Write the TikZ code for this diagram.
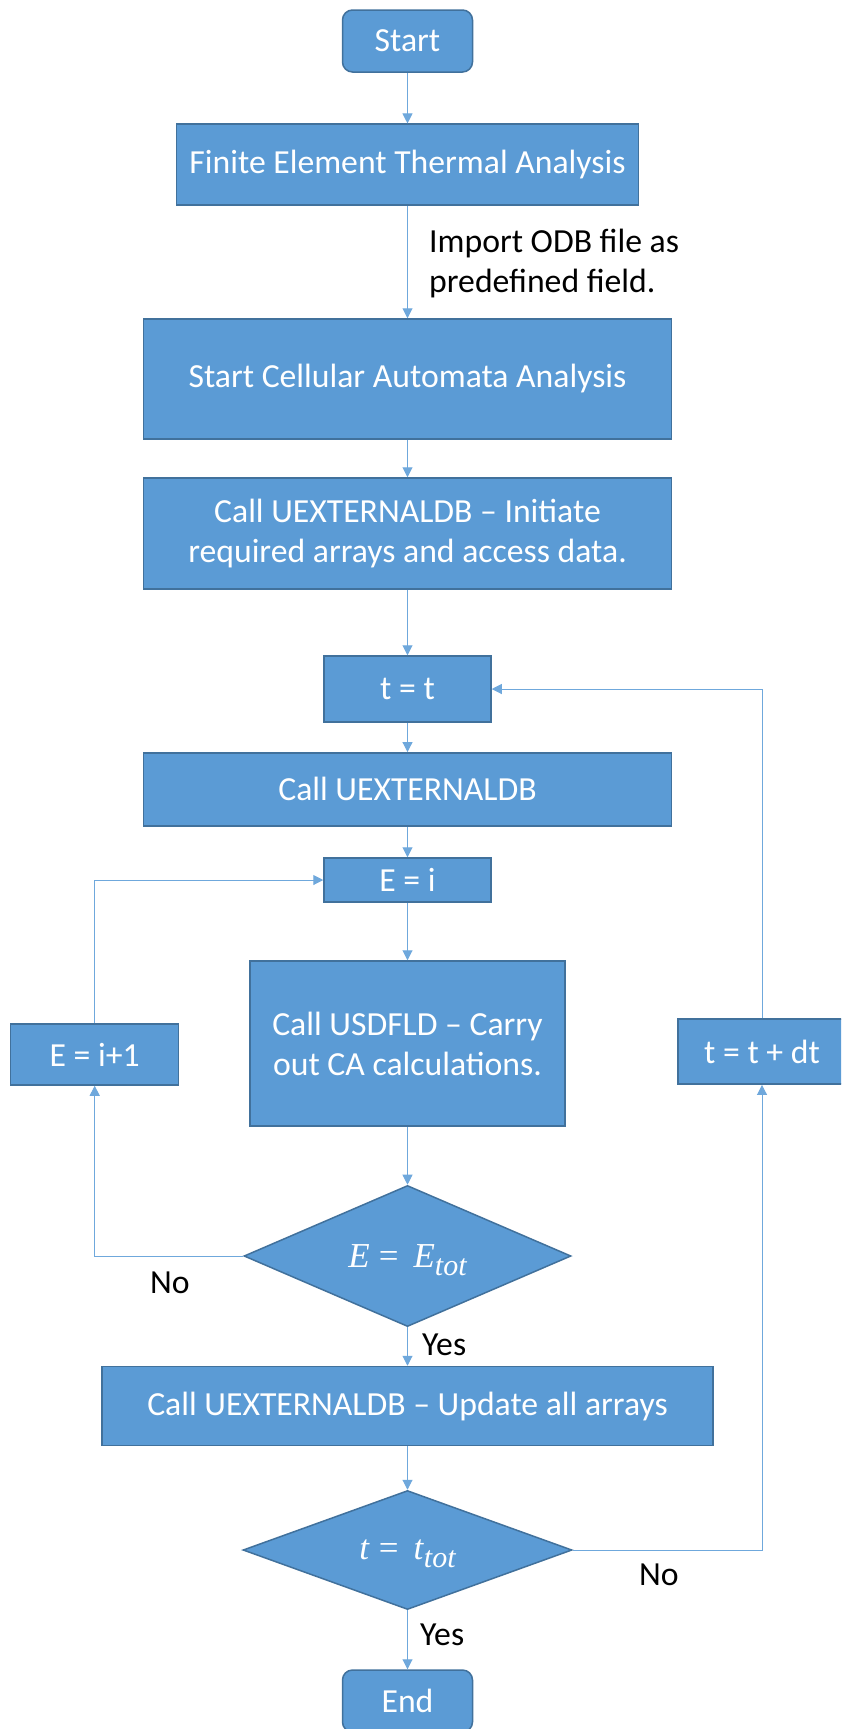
\documentclass[tikz,border=0pt]{standalone}
\usepackage{fontspec}
\setmainfont{Carlito}
\newfontfamily\mathish{Liberation Serif}
\usetikzlibrary{arrows.meta,shapes.geometric}
\definecolor{boxblue}{HTML}{5B9BD5}
\definecolor{boxedge}{HTML}{41719C}
\definecolor{linkblue}{HTML}{6FA8DC}
\newcommand\tot{\raisebox{-8pt}[0pt][0pt]{\fontsize{30}{30}\selectfont\itshape tot}}

\begin{document}
\begin{tikzpicture}[
  x=1pt, y=-1pt,
  >={Triangle[length=10pt,width=10pt]},
  font=\fontsize{33.7}{40}\selectfont,
  block/.style={draw=boxedge, line width=1.5pt, fill=boxblue, text=white, align=center, inner sep=0pt},
  terminal/.style={block, rounded corners=10pt},
  decision/.style={block, diamond, font=\fontsize{35}{40}\mathish},
  link/.style={draw=linkblue, line width=1pt},
  note/.style={inner sep=0pt, text=black, align=left}
  ]
\clip (0,0) rectangle (841,1729);
\fill [white] (0,0) rectangle (841,1729);
%\draw [ultra thin, lightgray] (0,0) grid [step=50] (841,1729);
\node [terminal, minimum width=130pt, minimum height=62pt] (start) at (407.5,41) {Start};
\node [block, minimum width=462pt, minimum height=81pt] (fe) at (407.5,164.7) {Finite Element Thermal Analysis};
\node [block, minimum width=528pt, minimum height=120pt] (ca) at (407.5,379) {Start Cellular Automata Analysis};
\node [block, minimum width=528pt, minimum height=111pt] (init) at (407.5,533.5) {Call UEXTERNALDB – Initiate\\required arrays and access data.};
\node [block, minimum width=167pt, minimum height=66pt] (tt) at (407.5,689) {t = t};
\node [block, minimum width=528pt, minimum height=73pt] (ext) at (407.5,789.3) {Call UEXTERNALDB};
\node [block, minimum width=167pt, minimum height=44pt] (ei) at (407.5,880) {E = i};
\node [block, minimum width=315pt, minimum height=165pt] (usd) at (407.5,1043.5) {Call USDFLD – Carry\\out CA calculations.};
\node [block, minimum width=168pt, minimum height=61pt] (inc) at (94.7,1054.5) {E = i+1};
\node [block, minimum width=168pt, minimum height=65pt] (adv) at (762,1051.7) {t = t + dt};
\node [decision, minimum width=327pt, minimum height=120pt] (d1) at (407.5,1256) {\textit{E}\hspace{9pt}=\hspace{15pt}\textit{E}\tot};
\node [block, minimum width=611pt, minimum height=79pt] (upd) at (407.5,1406) {Call UEXTERNALDB – Update all arrays};
\node [decision, minimum width=329pt, minimum height=119pt] (d2) at (407.5,1550) {\textit{t}\hspace{9pt}=\hspace{15pt}\textit{t}\tot};
\node [terminal, minimum width=130pt, minimum height=62pt] (end) at (407.5,1701) {End};

\node [note, anchor=west] (odb) at (429,264) {Import ODB file as\\predefined field.};
\node [note, anchor=base west] (no1) at (150,1293) {No};
\node [note, anchor=base west] (yes1) at (422,1355) {Yes};
\node [note, anchor=base west] (no2) at (639,1585) {No};
\node [note, anchor=base west] (yes2) at (420,1645) {Yes};

\draw [link, ->] (start) -- (fe);
\draw [link, ->] (fe) -- (ca);
\draw [link, ->] (ca) -- (init);
\draw [link, ->] (init) -- (tt);
\draw [link, ->] (tt) -- (ext);
\draw [link, ->] (ext) -- (ei);
\draw [link, ->] (ei) -- (usd);
\draw [link, ->] (usd) -- (d1);
\draw [link, ->] (d1) -- (upd);
\draw [link, ->] (upd) -- (d2);
\draw [link, ->] (d2) -- (end);
\draw [link, ->] (d1.west) -| (inc.south);
\draw [link, ->] (inc.north) |- (ei.west);
\draw [link, ->] (d2.east) -| (adv.south);
\draw [link, ->] (adv.north) |- (tt.east);
\end{tikzpicture}
\end{document}
